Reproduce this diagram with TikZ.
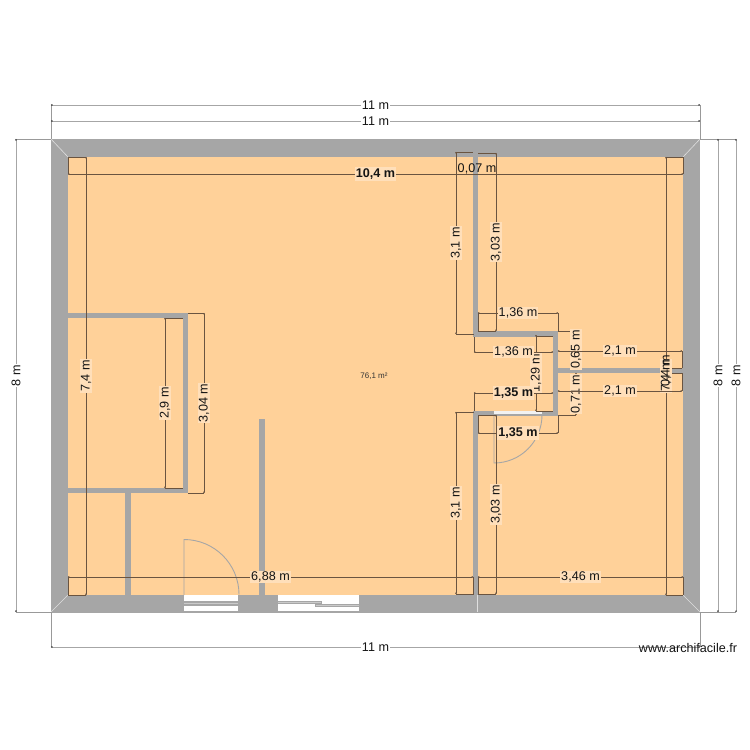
\documentclass[tikz,border=0pt]{standalone}
\usepackage{fontspec}
\setmainfont{Liberation Sans}
\usepackage{xcolor}
\definecolor{wallgray}{HTML}{A6A6A6}
\definecolor{floorcol}{HTML}{FFD199}
\definecolor{labelcol}{HTML}{FFDFBA}
\definecolor{dimcol}{HTML}{6A5440}
\usetikzlibrary{arrows.meta}

\begin{document}
\begin{tikzpicture}[
    x=1pt, y=-1pt,
    wall/.style={fill=wallgray, draw=none},
    doorline/.style={draw=wallgray, line width=0.9pt},
    seam/.style={draw=gray!25, line width=0.6pt},
    dimline/.style={draw=dimcol, line width=0.6pt, {Circle[length=1.6pt]}-{Circle[length=1.6pt]}},
    extline/.style={draw=dimcol, line width=0.6pt},
    outerdim/.style={draw=wallgray, line width=1pt, {Circle[length=1.6pt,black!70]}-{Circle[length=1.6pt,black!70]}},
    outerext/.style={draw=gray!80, line width=0.7pt},
    dimlabel/.style={fill=labelcol, text=black!92, inner sep=1.2pt, font=\fontsize{12.6}{13}\selectfont},
    outerlabel/.style={dimlabel, fill=white},
]
\useasboundingbox (0,0) rectangle (750,750);
\fill[white] (0,0) rectangle (750,750);

% outer walls and floor
\fill[wall] (51,139) rectangle (700,612.5);
\fill[floorcol] (68,157) rectangle (683,595);
\draw[seam] (51,139) -- (68,157);
\draw[seam] (700,139) -- (683,157);
\draw[seam] (700,612) -- (683,595);
\draw[seam] (51,612) -- (68,595);
\draw[seam] (477,595) -- (477,612);

% inner walls, left room
\fill[wall] (68,313) rectangle (188,318);
\fill[wall] (183,313) rectangle (188,493);
\fill[wall] (68,488) rectangle (188,493);
\fill[wall] (125,493) rectangle (131,595);
\fill[wall] (259,419) rectangle (265,595);

% inner walls, right side
\fill[wall] (473,157) rectangle (478,337);
\fill[wall] (473,331) rectangle (558,337);
\fill[wall] (553,331) rectangle (558,416);
\fill[wall] (473,411) rectangle (558,416);
\fill[wall] (473,411) rectangle (478,595);
\fill[wall] (558,368) rectangle (683,373);

% door of the small room
\fill[white!85!wallgray] (494,411) rectangle (542,413.5);
\draw[doorline] (494,415) -- (494,463) arc[start angle=90, end angle=0, radius=48];

% entrance door
\fill[white] (184,595) rectangle (238,611);
\fill[wallgray] (184,601) rectangle (238,602.8);
\fill[wallgray!60] (184,602.8) rectangle (238,604);
\fill[wallgray] (184,604) rectangle (238,606);
\draw[doorline] (184,595) -- (184,539.5) arc[start angle=-90, end angle=0, radius=55];

% sliding window
\fill[white] (278,595) rectangle (359,611);
\fill[wallgray] (278,600.5) rectangle (322,603.5);
\fill[wallgray!60] (278,601.7) rectangle (321,602.5);
\fill[wallgray] (315,604) rectangle (359,607);
\fill[wallgray!60] (316,605.2) rectangle (359,606);

% dimension helper lines
\foreach \xa/\ya/\xb/\yb in {
    68/157/86/157, 68/595/86/595, 68/157/68/174, 683/157/683/174,
    666/157/683/157, 666/595/683/595, 68/577/68/595, 683/577/683/595,
    473/577/473/595, 478/577/478/595,
    456/152/473/152, 456/334/474/334, 478/153/496/153, 478/331/496/331,
    456/412/474/412, 456/594/473/594, 478/415/496/415, 478/594/496/594,
    558/313/558/331, 478/313/478/331, 474/337/474/352, 474/393/474/411,
    478/415/478/433, 558/415/558/433, 536/336/553/336, 536/411/553/411,
    558/331/576/331, 558/415/576/415, 682/351/682/368, 682/373/682/391,
    666/368/682/368, 666/373/682/373,
    165/318/183/318, 165/488/183/488, 188/313/204/313, 188/493/204/493}
    \draw[extline] (\xa,\ya) -- (\xb,\yb);

\foreach \xa/\ya/\xb/\yb in {
    51/105/51/139, 700/105/700/139, 51/612/51/647, 700/612/700/647,
    16/139/51/139, 16/612/51/612, 700/139/736/139, 700/612/736/612}
    \draw[outerext] (\xa,\ya) -- (\xb,\yb);

% overall dimensions
\draw[outerdim] (51,105) -- node[outerlabel] (top_a) {11 m} (700,105);
\draw[outerdim] (51,121) -- node[outerlabel] (top_b) {11 m} (700,121);
\draw[outerdim] (51,647) -- node[outerlabel] (bottom_a) {11 m} (700,647);
\draw[outerdim] (16,139) -- node[outerlabel, rotate=90] (left_a) {8 m} (16,612);
\draw[outerdim] (718,139) -- node[outerlabel, rotate=90] (right_a) {8 m} (718,612);
\draw[outerdim] (736,139) -- node[outerlabel, rotate=90] (right_b) {8 m} (736,612);

% inside dimensions
\draw[dimline] (68,174) -- node[dimlabel, font=\fontsize{12.6}{13}\selectfont\bfseries] (width_in) {10,4 m} (683,174);
\draw[dimline] (86,157) -- node[dimlabel, rotate=90] (height_l) {7,4 m} (86,595);
\draw[dimline] (666,157) -- node[dimlabel, rotate=90] (height_r) {7,4 m} (666,595);
\node[dimlabel, rotate=90, fill=none] (gap_r) at (666,371) {0,4 m};
\node[dimlabel, fill=none] (gap_t) at (477,169) {0,07 m};

\draw[dimline] (165,318) -- node[dimlabel, rotate=90] (room_in) {2,9 m} (165,488);
\draw[dimline] (204,313) -- node[dimlabel, rotate=90] (room_out) {3,04 m} (204,493);

\draw[dimline] (456,152) -- node[dimlabel, rotate=90] (up_in) {3,1 m} (456,334);
\draw[dimline] (496,153) -- node[dimlabel, rotate=90] (up_out) {3,03 m} (496,331);
\draw[dimline] (456,412) -- node[dimlabel, rotate=90] (low_in) {3,1 m} (456,594);
\draw[dimline] (496,415) -- node[dimlabel, rotate=90] (low_out) {3,03 m} (496,594);

\draw[dimline] (536,335) -- node[dimlabel, rotate=90] (box_h) {1,29 m} (536,411);
\draw[dimline] (478,313) -- node[dimlabel] (box_a) {1,36 m} (558,313);
\draw[dimline] (474,352) -- node[dimlabel] (box_b) {1,36 m} (553,352);
\draw[dimline] (474,393) -- node[dimlabel, font=\fontsize{12.6}{13}\selectfont\bfseries] (box_c) {1,35 m} (553,393);
\draw[dimline] (478,433) -- node[dimlabel, font=\fontsize{12.6}{13}\selectfont\bfseries] (box_d) {1,35 m} (558,433);

\draw[dimline] (576,331) -- node[dimlabel, rotate=90] (wall_up) {0,65 m} (576,368);
\draw[dimline] (576,373) -- node[dimlabel, rotate=90] (wall_low) {0,71 m} (576,415);
\draw[dimline] (558,351) -- node[dimlabel] (side_a) {2,1 m} (682,351);
\draw[dimline] (558,391) -- node[dimlabel] (side_b) {2,1 m} (682,391);

\draw[dimline] (68,577) -- node[dimlabel] (front_l) {6,88 m} (473,577);
\draw[dimline] (478,577) -- node[dimlabel] (front_r) {3,46 m} (683,577);

% area and site name
\node[font=\fontsize{8}{9}\selectfont, text=black!80] (area) at (374,376) {76,1 m²};
\node[font=\fontsize{12.6}{13}\selectfont, text=black!92] (site) at (688,648) {www.archifacile.fr};

\end{tikzpicture}
\end{document}
